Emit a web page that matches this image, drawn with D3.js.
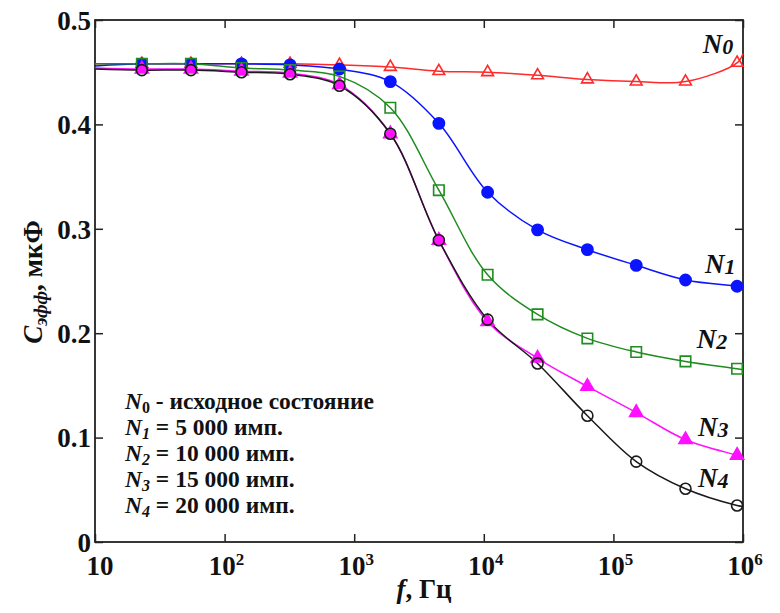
<!DOCTYPE html>
<html>
<head>
<meta charset="utf-8">
<script src="https://cdn.jsdelivr.net/npm/d3@7"></script>
<style>
  html, body { margin: 0; padding: 0; background: #fff; }
  svg { display: block; }
  svg text { font-family: 'Liberation Serif', 'Tinos', 'DejaVu Serif', serif; font-weight: bold; }
</style>
</head>
<body>
<svg id="chart" width="780" height="613"></svg>
<script>
// Measurement frequencies, Hz
const freqs = [23, 55, 135, 320, 770, 1900, 4500, 10700, 26000, 63000, 150000, 360000, 900000];

// Effective capacitance, µF, per pulse count
const n0 = [0.458, 0.458, 0.458, 0.458, 0.457, 0.455, 0.451, 0.450, 0.447, 0.443, 0.441, 0.441, 0.459];
const n1 = [0.458, 0.458, 0.458, 0.457, 0.453, 0.441, 0.401, 0.335, 0.299, 0.280, 0.265, 0.251, 0.245];
const n2 = [0.458, 0.458, 0.454, 0.452, 0.446, 0.416, 0.337, 0.256, 0.218, 0.195, 0.182, 0.173, 0.166];
const n3 = [0.453, 0.453, 0.451, 0.449, 0.438, 0.391, 0.289, 0.211, 0.176, 0.149, 0.124, 0.098, 0.083];
const n4 = [0.452, 0.452, 0.450, 0.448, 0.437, 0.391, 0.289, 0.213, 0.171, 0.121, 0.077, 0.051, 0.035];

// Fitted curve values at the ends of the frequency range (10 Hz and 1 MHz)
const fitRange = [10, 1e6];
const fitStart = [0.458, 0.456, 0.458, 0.454, 0.453];
const fitEnd   = [0.468, 0.244, 0.165, 0.081, 0.034];

const seriesLabels = ["0", "1", "2", "3", "4"];
const legendTexts = [" - исходное состояние", " = 5 000 имп.", " = 10 000 имп.", " = 15 000 имп.", " = 20 000 имп."];

const xTicks = [10, 1e2, 1e3, 1e4, 1e5, 1e6];
const xTickExp = ["", "2", "3", "4", "5", "6"];
const yTicks = [0, 0.1, 0.2, 0.3, 0.4, 0.5];
const yTickLabels = ["0", "0.1", "0.2", "0.3", "0.4", "0.5"];

const svg = d3.select("#chart");
const plotLeft = 95, plotRight = 743, plotTop = 20, plotBottom = 542;

const x = d3.scaleLog().domain([10, 1e6]).range([plotLeft, plotRight]);
const y = d3.scaleLinear().domain([0, 0.5]).range([plotBottom, plotTop]);

const styles = [
  { color: "#ff2a2a", symbol: d3.symbolTriangle, size: 60, filled: false },
  { color: "#0a14ff", symbol: d3.symbolCircle,   size: 100, filled: true },
  { color: "#1e8c1e", symbol: d3.symbolSquare,   size: 110, filled: false },
  { color: "#ff10ff", symbol: d3.symbolTriangle, size: 75, filled: true },
  { color: "#1a1a1a", symbol: d3.symbolCircle,   size: 95, filled: false }
];
const allSeries = [n0, n1, n2, n3, n4];

// Label placement for curve names
const nameAnchors = [
  { f: 4.9e5, v: 0.468 },
  { f: 5.1e5, v: 0.258 },
  { f: 4.4e5, v: 0.186 },
  { f: 4.5e5, v: 0.102 },
  { f: 4.5e5, v: 0.053 }
];

// Frame
const axisColor = "#222";
svg.append("rect")
  .attr("x", plotLeft).attr("y", plotTop)
  .attr("width", plotRight - plotLeft).attr("height", plotBottom - plotTop)
  .attr("fill", "none").attr("stroke", axisColor).attr("stroke-width", 1.8);

// Axes with inward ticks
const tickLen = 8;
const gBottom = svg.append("g").attr("transform", `translate(0,${plotBottom})`)
  .call(d3.axisBottom(x).tickValues(xTicks).tickSize(-tickLen).tickFormat(""));
const gTop = svg.append("g").attr("transform", `translate(0,${plotTop})`)
  .call(d3.axisTop(x).tickValues(xTicks).tickSize(-tickLen).tickFormat(""));
const gLeft = svg.append("g").attr("transform", `translate(${plotLeft},0)`)
  .call(d3.axisLeft(y).tickValues(yTicks).tickSize(-tickLen).tickFormat(""));
const gRight = svg.append("g").attr("transform", `translate(${plotRight},0)`)
  .call(d3.axisRight(y).tickValues(yTicks).tickSize(-tickLen).tickFormat(""));
[gBottom, gTop, gLeft, gRight].forEach(g => {
  g.select(".domain").remove();
  g.selectAll(".tick line").attr("stroke", axisColor).attr("stroke-width", 1.5);
});

// X tick labels: 10, 10², ... 10⁶
xTicks.forEach((t, i) => {
  const txt = svg.append("text")
    .attr("x", x(t) + (i === 0 ? 5 : 2)).attr("y", 575)
    .attr("text-anchor", "middle").attr("font-size", 27).attr("fill", "#111");
  txt.append("tspan").text("10");
  if (xTickExp[i]) txt.append("tspan").attr("font-size", 17).attr("dy", -10).text(xTickExp[i]);
});

// Y tick labels
yTicks.forEach((t, i) => {
  svg.append("text")
    .attr("x", 91).attr("y", y(t)).attr("dy", "0.36em")
    .attr("text-anchor", "end").attr("font-size", 27).attr("fill", "#111")
    .text(yTickLabels[i]);
});

// Axis titles
const xt = svg.append("text").attr("x", 424).attr("y", 598)
  .attr("text-anchor", "middle").attr("font-size", 27).attr("fill", "#111");
xt.append("tspan").attr("font-style", "italic").text("f");
xt.append("tspan").text(", Гц");

const yt = svg.append("text").attr("transform", "translate(42,282) rotate(-90)")
  .attr("text-anchor", "middle").attr("font-size", 27).attr("fill", "#111");
yt.append("tspan").attr("font-style", "italic").text("C");
yt.append("tspan").attr("font-style", "italic").attr("font-size", 19).attr("dy", 5).text("эфф");
yt.append("tspan").attr("dy", -5).text(", мкФ");

// Curves and markers
const line = d3.line().curve(d3.curveCatmullRom.alpha(0.5))
  .x(d => x(d[0])).y(d => y(d[1]));

allSeries.forEach((vals, i) => {
  const st = styles[i];
  const pts = [[fitRange[0], fitStart[i]]]
    .concat(freqs.map((f, j) => [f, vals[j]]))
    .concat([[fitRange[1], fitEnd[i]]]);
  svg.append("path").datum(pts)
    .attr("d", line).attr("fill", "none")
    .attr("stroke", st.color).attr("stroke-width", 1.5);
});

allSeries.forEach((vals, i) => {
  const st = styles[i];
  svg.append("g").selectAll("path")
    .data(freqs.map((f, j) => [f, vals[j]]))
    .join("path")
    .attr("transform", d => `translate(${x(d[0])},${y(d[1])})`)
    .attr("d", d3.symbol().type(st.symbol).size(st.size))
    .attr("fill", st.filled ? st.color : "none")
    .attr("stroke", st.color).attr("stroke-width", 1.6);
});

// Curve names N0..N4
nameAnchors.forEach((a, i) => {
  const t = svg.append("text")
    .attr("x", x(a.f)).attr("y", y(a.v))
    .attr("font-size", 27).attr("font-style", "italic").attr("fill", "#111");
  t.append("tspan").text("N");
  t.append("tspan").attr("font-size", 22).attr("dy", 1).text(seriesLabels[i]);
});

// Legend describing the pulse counts
const legendRows = [409, 435, 461, 487, 513];
legendTexts.forEach((s, i) => {
  const t = svg.append("text").attr("x", 125).attr("y", legendRows[i])
    .attr("font-size", 23.5).attr("fill", "#111");
  t.append("tspan").attr("font-style", "italic").text("N");
  t.append("tspan").attr("font-size", 16).attr("dy", 4)
    .attr("font-style", i === 0 ? "normal" : "italic").text(seriesLabels[i]);
  t.append("tspan").attr("dy", -4).text(s);
});
</script>
</body>
</html>
